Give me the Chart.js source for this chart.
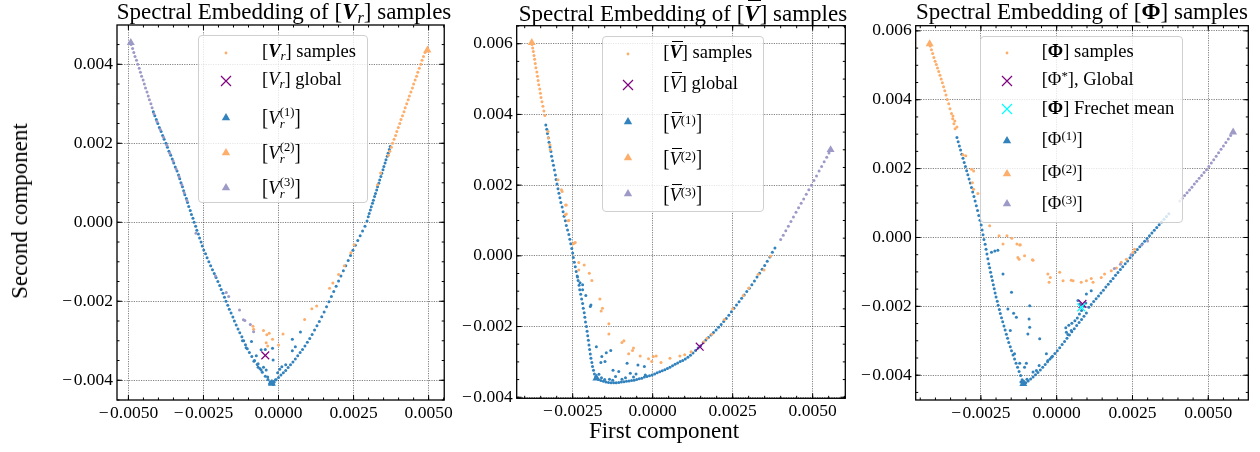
<!DOCTYPE html>
<html><head><meta charset="utf-8">
<script src="https://cdn.jsdelivr.net/npm/chart.js@4.4.1/dist/chart.umd.min.js"></script>
<style>
html,body{margin:0;padding:0;background:#fff}
body{width:1260px;height:452px;position:relative;overflow:hidden;font-family:"Liberation Serif","Times New Roman",serif;color:#000}
canvas{position:absolute;top:0}
.ttl{position:absolute;top:0;height:24px;line-height:24px;font-size:23px;white-space:nowrap;text-align:center}
.lab{position:absolute;font-size:23px;white-space:nowrap;line-height:26px}
.lg{position:absolute;border:1px solid #cfcfcf;border-radius:4px;background:rgba(255,255,255,0.8);box-sizing:border-box}
.row{position:absolute;font-size:18.5px;line-height:24px;height:24px;white-space:nowrap}
.mk{position:absolute;width:12px;height:12px}
sub{font-size:0.7em;vertical-align:-0.22em;line-height:0}
sup{font-size:0.7em;vertical-align:0.42em;line-height:0}
.ss{display:inline-block;vertical-align:-0.3em;font-size:0.68em;line-height:0.95em;margin-left:0.02em}
.ss span{display:block}
.ov{display:inline-block;position:relative;line-height:1.2em}
.ov::before{content:'';position:absolute;left:0.14em;right:-0.04em;top:0.0em;border-top:1px solid #000}
.bb{display:inline-block;transform:scale(1,1.22)}
</style></head>
<body>
<canvas id="c1" width="456" height="452" style="left:0px"></canvas>
<canvas id="c2" width="396" height="452" style="left:456px"></canvas>
<canvas id="c3" width="408" height="452" style="left:852px"></canvas>
<script>
// ---------------- DATA ----------------
const p1XTicks=[-0.005,-0.0025,0,0.0025,0.005];
const p1YTicks=[-0.004,-0.002,0,0.002,0.004];
const p2XTicks=[-0.0025,0,0.0025,0.005];
const p2YTicks=[-0.004,-0.002,0,0.002,0.004,0.006];
const p3XTicks=[-0.0025,0,0.0025,0.005];
const p3YTicks=[-0.004,-0.002,0,0.002,0.004,0.006];

// Panel 1: [V_r]
const p1Blue=[
[-0.00417,0.00280],[-0.00412,0.00270],[-0.00407,0.00260],[-0.00402,0.00250],[-0.00397,0.00240],[-0.00391,0.00230],[-0.00386,0.00220],[-0.00381,0.00210],[-0.00375,0.00200],[-0.00370,0.00190],[-0.00365,0.00180],[-0.00359,0.00170],[-0.00354,0.00160],[-0.00349,0.00150],[-0.00344,0.00140],[-0.00338,0.00130],[-0.00333,0.00120],[-0.00329,0.00110],[-0.00325,0.00100],[-0.00320,0.00090],[-0.00316,0.00080],[-0.00312,0.00070],[-0.00307,0.00060],[-0.00303,0.00050],[-0.00299,0.00040],[-0.00294,0.00030],[-0.00290,0.00020],[-0.00285,0.00010],[-0.00281,0.00000],[-0.00276,-0.00010],[-0.00272,-0.00020],[-0.00267,-0.00030],[-0.00263,-0.00040],[-0.00258,-0.00050],[-0.00254,-0.00060],[-0.00249,-0.00070],[-0.00243,-0.00080],[-0.00238,-0.00090],[-0.00232,-0.00100],[-0.00226,-0.00110],[-0.00220,-0.00120],[-0.00214,-0.00130],[-0.00208,-0.00140],[-0.00202,-0.00150],[-0.00196,-0.00160],[-0.00191,-0.00170],[-0.00185,-0.00180],[-0.00180,-0.00190],[-0.00175,-0.00200],[-0.00169,-0.00210],[-0.00164,-0.00220],[-0.00158,-0.00230],[-0.00152,-0.00240],[-0.00147,-0.00250],[-0.00141,-0.00260],[-0.00135,-0.00270],[-0.00129,-0.00280],[-0.00122,-0.00290],[-0.00116,-0.00300],[-0.00110,-0.00310],[-0.00104,-0.00320],[-0.00097,-0.00330],[-0.00089,-0.00340],[-0.00080,-0.00350],[-0.00071,-0.00360],[-0.00062,-0.00370],[-0.00054,-0.00380],[-0.00044,-0.00390],[-0.00035,-0.00398],[-0.00028,-0.00404],[-0.00022,-0.00408],
[-0.00120,-0.00300],[-0.00108,-0.00318],[-0.00082,-0.00352],[-0.00068,-0.00358],[-0.00058,-0.00374],[-0.00036,-0.00392],[-0.00015,-0.00405],[-0.00010,-0.00399],[-0.00030,-0.00409],[-0.00018,-0.00411],
[-0.00016,-0.00404],[-0.00008,-0.00399],[0.00000,-0.00393],[0.00008,-0.00387],[0.00016,-0.00381],[0.00024,-0.00375],[0.00032,-0.00368],[0.00040,-0.00361],[0.00048,-0.00354],[0.00056,-0.00346],[0.00064,-0.00338],[0.00072,-0.00330],[0.00080,-0.00322],[0.00088,-0.00313],[0.00096,-0.00304],[0.00104,-0.00294],[0.00112,-0.00284],[0.00120,-0.00273],[0.00128,-0.00262],[0.00136,-0.00251],[0.00144,-0.00239],[0.00152,-0.00227],[0.00160,-0.00214],[0.00168,-0.00201],[0.00176,-0.00188],[0.00184,-0.00175],[0.00192,-0.00162],[0.00200,-0.00149],[0.00208,-0.00136],[0.00216,-0.00123],[0.00224,-0.00110],[0.00232,-0.00097],[0.00240,-0.00084],[0.00248,-0.00071],[0.00256,-0.00058],[0.00264,-0.00046],[0.00272,-0.00034],[0.00280,-0.00022],[0.00288,-0.00010],[0.00295,0.00003],
[0.00299,0.00014],[0.00302,0.00022],[0.00306,0.00031],[0.00309,0.00039],[0.00313,0.00048],[0.00316,0.00056],[0.00320,0.00065],[0.00323,0.00073],[0.00327,0.00082],[0.00330,0.00090],[0.00334,0.00099],[0.00337,0.00107],[0.00341,0.00116],[0.00344,0.00124],[0.00348,0.00133],[0.00351,0.00141],[0.00355,0.00150],[0.00358,0.00158],[0.00362,0.00167],[0.00365,0.00175],[0.00369,0.00184],[0.00372,0.00192],
[-0.00090,-0.00302],[-0.00058,-0.00323],[-0.00044,-0.00322],[-0.00020,-0.00319],[-0.00018,-0.00349],[-0.00068,-0.00367],[-0.00050,-0.00367],[-0.00041,-0.00374],[0.00011,-0.00366],[0.00024,-0.00361],[0.00046,-0.00325],[0.00056,-0.00315],[0.00073,-0.00278],[0.00046,-0.00296],[-0.00003,-0.00381],[0.00004,-0.00372],[-0.00074,-0.00338]
];
const p1Orange=[
[0.00366,0.00170],[0.00371,0.00180],[0.00376,0.00190],[0.00380,0.00200],[0.00385,0.00210],[0.00390,0.00220],[0.00394,0.00230],[0.00399,0.00240],[0.00404,0.00250],[0.00408,0.00260],[0.00413,0.00270],[0.00418,0.00280],[0.00422,0.00290],[0.00427,0.00300],[0.00432,0.00310],[0.00436,0.00320],[0.00441,0.00330],[0.00446,0.00340],[0.00450,0.00350],[0.00455,0.00360],[0.00460,0.00370],[0.00464,0.00380],[0.00469,0.00390],[0.00474,0.00400],[0.00478,0.00410],[0.00483,0.00420],[0.00488,0.00430],
[-0.00085,-0.00263],[-0.00083,-0.00271],[-0.00050,-0.00274],[-0.00031,-0.00281],[-0.00039,-0.00285],[-0.00020,-0.00296],[0.00015,-0.00283],[0.00000,-0.00311],[-0.00041,-0.00305],[-0.00036,-0.00313],[0.00087,-0.00246],[0.00111,-0.00219],[0.00127,-0.00212],[0.00170,-0.00167],[0.00181,-0.00154],[0.00200,-0.00132],[0.00219,-0.00110],[0.00241,-0.00077],[0.00252,-0.00057],[0.00330,0.00095],[0.00340,0.00125]
];
const p1Purple=[
[-0.00491,0.00450],[-0.00486,0.00440],[-0.00482,0.00430],[-0.00478,0.00420],[-0.00473,0.00410],[-0.00469,0.00400],[-0.00464,0.00390],[-0.00460,0.00380],[-0.00456,0.00370],[-0.00451,0.00360],[-0.00447,0.00350],[-0.00443,0.00340],[-0.00438,0.00330],[-0.00434,0.00320],[-0.00430,0.00310],[-0.00425,0.00300],[-0.00421,0.00290],[-0.00415,0.00275],[-0.00405,0.00255],[-0.00394,0.00235],[-0.00383,0.00215],[-0.00372,0.00195],[-0.00362,0.00175],[-0.00351,0.00155],[-0.00341,0.00135],[-0.00331,0.00115],[-0.00322,0.00095],[-0.00314,0.00075],[-0.00305,0.00055],
[-0.00275,-0.00028],[-0.00210,-0.00136],[-0.00174,-0.00178],[-0.00166,-0.00188],[-0.00130,-0.00222],[-0.00112,-0.00249],[-0.00094,-0.00259],[-0.00083,-0.00277],[-0.00117,-0.00247]
];
const p1TriBlue=[[-0.00022,-0.00408]];
const p1TriOrange=[[0.00496,0.00436]];
const p1TriPurple=[[-0.00492,0.00455]];
const p1Global=[[-0.00044,-0.00337]];

// Panel 2: [V-bar]
const p2Blue=[
[-0.00334,0.00370],[-0.00331,0.00358],[-0.00329,0.00346],[-0.00326,0.00334],[-0.00324,0.00321],[-0.00321,0.00308],[-0.00318,0.00295],[-0.00316,0.00282],[-0.00313,0.00269],[-0.00310,0.00256],[-0.00307,0.00243],[-0.00304,0.00229],[-0.00302,0.00216],[-0.00299,0.00203],[-0.00296,0.00190],[-0.00293,0.00177],[-0.00290,0.00164],[-0.00287,0.00151],[-0.00283,0.00138],[-0.00280,0.00125],[-0.00277,0.00112],[-0.00273,0.00099],[-0.00270,0.00086],[-0.00266,0.00073],[-0.00262,0.00060],[-0.00259,0.00047],[-0.00256,0.00034],[-0.00253,0.00021],[-0.00250,0.00008],[-0.00248,-0.00005],[-0.00245,-0.00018],[-0.00242,-0.00031],[-0.00239,-0.00044],[-0.00236,-0.00057],[-0.00233,-0.00070],[-0.00230,-0.00083],[-0.00228,-0.00096],[-0.00225,-0.00109],[-0.00222,-0.00122],[-0.00219,-0.00135],[-0.00217,-0.00148],[-0.00214,-0.00161],[-0.00212,-0.00174],[-0.00210,-0.00187],[-0.00207,-0.00200],[-0.00205,-0.00213],[-0.00203,-0.00226],[-0.00201,-0.00239],[-0.00199,-0.00252],[-0.00197,-0.00265],[-0.00195,-0.00278],[-0.00193,-0.00290],[-0.00190,-0.00302],[-0.00188,-0.00313],[-0.00185,-0.00324],[-0.00182,-0.00334],[-0.00178,-0.00342],
[-0.00170,-0.00350],[-0.00162,-0.00353],[-0.00154,-0.00355],[-0.00146,-0.00357],[-0.00138,-0.00358],[-0.00130,-0.00359],[-0.00122,-0.00359],[-0.00114,-0.00359],[-0.00106,-0.00358],[-0.00098,-0.00357],[-0.00090,-0.00356],[-0.00082,-0.00355],[-0.00074,-0.00354],[-0.00066,-0.00353],[-0.00058,-0.00352],[-0.00050,-0.00350],[-0.00042,-0.00348],[-0.00034,-0.00346],[-0.00026,-0.00343],[-0.00018,-0.00341],[-0.00010,-0.00339],[-0.00002,-0.00337],[0.00006,-0.00334],[0.00014,-0.00331],[0.00022,-0.00328],[0.00030,-0.00325],[0.00038,-0.00322],[0.00046,-0.00319],[0.00054,-0.00315],[0.00062,-0.00311],[0.00070,-0.00307],[0.00078,-0.00303],[0.00086,-0.00299],[0.00094,-0.00296],[0.00102,-0.00292],[0.00110,-0.00287],[0.00118,-0.00281],[0.00126,-0.00275],[0.00134,-0.00268],[0.00142,-0.00261],[0.00150,-0.00254],[0.00158,-0.00246],[0.00166,-0.00238],[0.00174,-0.00231],[0.00182,-0.00224],[0.00190,-0.00217],[0.00198,-0.00210],[0.00206,-0.00202],[0.00214,-0.00194],[0.00222,-0.00186],[0.00230,-0.00177],[0.00238,-0.00168],[0.00246,-0.00158],[0.00254,-0.00148],[0.00262,-0.00139],[0.00270,-0.00130],[0.00278,-0.00120],[0.00286,-0.00111],[0.00294,-0.00101],[0.00302,-0.00092],[0.00310,-0.00082],[0.00318,-0.00071],[0.00326,-0.00060],[0.00334,-0.00049],[0.00342,-0.00038],[0.00350,-0.00027],[0.00358,-0.00015],[0.00366,-0.00003],[0.00374,0.00010],[0.00382,0.00022],
[-0.00235,-0.00060],[-0.00227,-0.00076],[-0.00219,-0.00096],[-0.00209,-0.00112],[-0.00195,-0.00143],[-0.00219,-0.00082],[-0.00193,-0.00139],[-0.00176,-0.00257],[-0.00159,-0.00285],[-0.00145,-0.00274],[-0.00131,-0.00268],[-0.00162,-0.00302],[-0.00149,-0.00299],[-0.00124,-0.00324],[-0.00106,-0.00327],[-0.00080,-0.00304],[-0.00070,-0.00332],[-0.00046,-0.00309],[-0.00026,-0.00313],[-0.00052,-0.00334],[-0.00116,-0.00341],[-0.00135,-0.00349],[-0.00096,-0.00349],[-0.00023,-0.00337],[-0.00168,-0.00335],[-0.00160,-0.00345],[-0.00150,-0.00350],[-0.00125,-0.00352],[-0.00085,-0.00345],[-0.00060,-0.00343]
];
const p2Orange=[
[-0.00377,0.00598],[-0.00375,0.00588],[-0.00373,0.00578],[-0.00371,0.00567],[-0.00369,0.00556],[-0.00367,0.00544],[-0.00365,0.00532],[-0.00362,0.00520],[-0.00360,0.00508],[-0.00358,0.00496],[-0.00356,0.00484],[-0.00353,0.00472],[-0.00351,0.00460],[-0.00349,0.00448],[-0.00346,0.00436],[-0.00343,0.00423],[-0.00340,0.00410],[-0.00337,0.00397],
[-0.00327,0.00352],[-0.00326,0.00333],[-0.00321,0.00314],[-0.00320,0.00300],[-0.00296,0.00215],[-0.00285,0.00187],[-0.00283,0.00182],[-0.00272,0.00144],[-0.00270,0.00118],[-0.00264,0.00099],[-0.00245,0.00036],
[-0.00270,0.00144],[-0.00273,0.00116],[-0.00262,0.00100],[-0.00248,0.00034],[-0.00242,0.00038],[-0.00231,-0.00019],[-0.00214,-0.00026],[-0.00231,-0.00040],[-0.00198,-0.00049],[-0.00190,-0.00070],[-0.00165,-0.00122],[-0.00157,-0.00148],[-0.00161,-0.00156],[-0.00137,-0.00192],[-0.00137,-0.00221],[-0.00096,-0.00245],[-0.00090,-0.00240],[-0.00060,-0.00261],[-0.00063,-0.00268],[-0.00075,-0.00277],[-0.00039,-0.00283],[-0.00013,-0.00291],[0.00002,-0.00285],[0.00011,-0.00283],[-0.00003,-0.00299],[0.00026,-0.00302],[0.00054,-0.00290],[0.00085,-0.00283],[0.00100,-0.00280],[0.00120,-0.00271],[0.00170,-0.00233],
[0.00160,-0.00243],[0.00185,-0.00222],[0.00224,-0.00180],[0.00250,-0.00150],[0.00283,-0.00112],[0.00300,-0.00091],[0.00330,-0.00052],[0.00348,-0.00040],[0.00368,-0.00001]
];
const p2Purple=[
[0.00400,0.00046],[0.00408,0.00058],[0.00416,0.00071],[0.00424,0.00084],[0.00432,0.00097],[0.00440,0.00110],[0.00448,0.00123],[0.00456,0.00136],[0.00464,0.00149],[0.00472,0.00161],[0.00480,0.00174],[0.00488,0.00187],[0.00496,0.00200],[0.00504,0.00213],[0.00512,0.00226],[0.00520,0.00240],[0.00528,0.00253],[0.00536,0.00266],[0.00544,0.00279],[0.00551,0.00291]
];
const p2TriBlue=[[-0.00176,-0.00346]];
const p2TriOrange=[[-0.00378,0.00603]];
const p2TriPurple=[[0.00556,0.00300]];
const p2Global=[[0.00147,-0.00257]];

// Panel 3: [Phi]
const p3Blue=[
[-0.00329,0.00290],[-0.00325,0.00278],[-0.00321,0.00266],[-0.00317,0.00254],[-0.00313,0.00242],[-0.00309,0.00230],[-0.00305,0.00218],[-0.00301,0.00206],[-0.00297,0.00194],[-0.00293,0.00182],[-0.00289,0.00170],[-0.00285,0.00158],[-0.00281,0.00145],[-0.00277,0.00132],[-0.00273,0.00119],[-0.00269,0.00106],[-0.00265,0.00092],[-0.00261,0.00078],[-0.00257,0.00064],[-0.00253,0.00050],[-0.00249,0.00036],[-0.00246,0.00022],[-0.00243,0.00008],[-0.00240,-0.00006],[-0.00236,-0.00020],[-0.00233,-0.00034],[-0.00230,-0.00048],[-0.00227,-0.00062],[-0.00224,-0.00076],[-0.00221,-0.00088],[-0.00218,-0.00101],[-0.00215,-0.00113],[-0.00212,-0.00125],[-0.00209,-0.00137],[-0.00206,-0.00149],[-0.00203,-0.00161],[-0.00200,-0.00173],[-0.00196,-0.00185],[-0.00193,-0.00197],[-0.00189,-0.00209],[-0.00186,-0.00221],[-0.00182,-0.00233],[-0.00178,-0.00245],[-0.00174,-0.00257],[-0.00170,-0.00269],[-0.00166,-0.00281],[-0.00162,-0.00293],[-0.00158,-0.00305],[-0.00153,-0.00317],[-0.00149,-0.00329],[-0.00144,-0.00341],[-0.00139,-0.00353],[-0.00134,-0.00365],[-0.00129,-0.00377],[-0.00124,-0.00389],[-0.00119,-0.00401],[-0.00114,-0.00413],
[-0.00102,-0.00422],[-0.00094,-0.00417],[-0.00086,-0.00411],[-0.00078,-0.00405],[-0.00070,-0.00399],[-0.00062,-0.00392],[-0.00054,-0.00385],[-0.00046,-0.00377],[-0.00038,-0.00369],[-0.00030,-0.00361],[-0.00022,-0.00353],[-0.00014,-0.00345],[-0.00006,-0.00337],[0.00002,-0.00329],[0.00010,-0.00320],[0.00018,-0.00311],[0.00026,-0.00302],[0.00034,-0.00293],[0.00042,-0.00283],[0.00050,-0.00274],[0.00058,-0.00265],[0.00066,-0.00256],[0.00074,-0.00247],[0.00082,-0.00238],[0.00090,-0.00229],[0.00098,-0.00219],[0.00106,-0.00203],[0.00114,-0.00195],[0.00122,-0.00186],[0.00130,-0.00178],[0.00138,-0.00170],[0.00146,-0.00161],[0.00154,-0.00153],[0.00162,-0.00144],[0.00170,-0.00136],[0.00178,-0.00127],[0.00186,-0.00119],[0.00194,-0.00110],[0.00202,-0.00102],[0.00210,-0.00093],[0.00218,-0.00085],[0.00226,-0.00076],[0.00234,-0.00068],[0.00242,-0.00059],[0.00250,-0.00051],[0.00258,-0.00043],[0.00266,-0.00035],[0.00274,-0.00027],[0.00282,-0.00019],[0.00290,-0.00011],[0.00298,-0.00003],[0.00306,0.00005],[0.00314,0.00013],[0.00322,0.00021],[0.00330,0.00029],[0.00338,0.00037],[0.00346,0.00045],[0.00354,0.00053],[0.00362,0.00061],[0.00370,0.00069],
[0.00030,-0.00262],[0.00040,-0.00255],[0.00050,-0.00249],[0.00060,-0.00242],[0.00068,-0.00234],[0.00075,-0.00222],[0.00082,-0.00212],[0.00090,-0.00200],[0.00096,-0.00190],
[-0.00215,-0.00043],[-0.00204,-0.00039],[-0.00194,-0.00037],[-0.00177,-0.00106],[-0.00149,-0.00159],[-0.00161,-0.00208],[-0.00142,-0.00220],[-0.00133,-0.00232],[-0.00153,-0.00270],[-0.00089,-0.00261],[-0.00139,-0.00338],[-0.00122,-0.00365],[-0.00100,-0.00365],[-0.00078,-0.00391],[-0.00067,-0.00386],[-0.00034,-0.00338],[-0.00029,-0.00357],[-0.00017,-0.00348],[-0.00058,-0.00372],[0.00032,-0.00275],[0.00037,-0.00282],[0.00048,-0.00270],[0.00070,-0.00183],[0.00076,-0.00193],[0.00098,-0.00164],[0.00114,-0.00155],[-0.00089,-0.00198],[-0.00091,-0.00237],[-0.00095,-0.00280],[-0.00056,-0.00294],[-0.00106,-0.00377],[-0.00108,-0.00418],[-0.00098,-0.00412],[-0.00118,-0.00420]
];
const p3Orange=[
[-0.00417,0.00556],[-0.00413,0.00545],[-0.00409,0.00534],[-0.00405,0.00523],[-0.00401,0.00512],[-0.00397,0.00502],[-0.00393,0.00492],[-0.00389,0.00482],[-0.00385,0.00471],[-0.00381,0.00460],[-0.00377,0.00449],[-0.00373,0.00438],[-0.00369,0.00426],[-0.00365,0.00414],[-0.00361,0.00401],[-0.00356,0.00388],[-0.00352,0.00374],[-0.00347,0.00360],[-0.00343,0.00345],[-0.00339,0.00330],[-0.00335,0.00316],
[-0.00342,0.00353],[-0.00336,0.00338],[-0.00329,0.00321],[-0.00309,0.00240],[-0.00300,0.00237],[-0.00281,0.00198],[-0.00274,0.00193],[-0.00278,0.00159],[-0.00274,0.00140],[-0.00260,0.00128],
[-0.00221,0.00034],[-0.00190,0.00005],[-0.00164,0.00005],[-0.00177,-0.00019],[-0.00131,-0.00019],[-0.00120,-0.00021],[-0.00124,-0.00063],[-0.00106,-0.00053],[-0.00078,-0.00066],[-0.00029,-0.00106],[-0.00021,-0.00116],[0.00010,-0.00101],[0.00021,-0.00126],[0.00048,-0.00124],[0.00054,-0.00126],[0.00081,-0.00130],[0.00098,-0.00126],[0.00114,-0.00119],[0.00120,-0.00130],[0.00147,-0.00116],[0.00158,-0.00106],[0.00180,-0.00097],[0.00197,-0.00089],[0.00213,-0.00072],[0.00230,-0.00063],[0.00252,-0.00043],[-0.00148,-0.00002],[-0.00122,-0.00022],[-0.00128,-0.00058],[-0.00080,-0.00065],[-0.00025,-0.00130],[0.00257,-0.00034]
];
const p3Purple=[
[0.00406,0.00106],[0.00414,0.00114],[0.00422,0.00122],[0.00430,0.00130],[0.00438,0.00138],[0.00446,0.00146],[0.00454,0.00155],[0.00462,0.00163],[0.00470,0.00172],[0.00478,0.00180],[0.00486,0.00189],[0.00494,0.00197],[0.00502,0.00206],[0.00510,0.00216],[0.00518,0.00226],[0.00526,0.00236],[0.00534,0.00246],[0.00542,0.00256],[0.00550,0.00266],[0.00558,0.00276],[0.00566,0.00286],[0.00574,0.00296],
[0.00190,-0.00090],[0.00210,-0.00078],[0.00245,-0.00050],[0.00280,-0.00022],[0.00300,-0.00010]
];
const p3TriBlue=[[-0.00110,-0.00425]];
const p3TriOrange=[[-0.00419,0.00562]];
const p3TriPurple=[[0.00582,0.00306]];
const p3Global=[[0.00085,-0.00193]];
const p3Frechet=[[0.00081,-0.00203]];

// ---------------- RENDERING ----------------
const SERIF='"Liberation Serif","Times New Roman",serif';
const C_BLUE='#3182bd', C_ORANGE='#fdae6b', C_PURPLE='#9e9ac8';
const pts=a=>a.map(([x,y])=>({x,y}));
const fmt=(v,d)=>(v<-1e-12?'\u2212\u200A':'')+Math.abs(v).toFixed(d);

const frameTicks={
  id:'frameTicks',
  afterDraw(chart){
    const {ctx,chartArea:a,scales:{x,y}}=chart;
    const minor=0.0005;
    ctx.save();
    ctx.strokeStyle='#000';ctx.lineWidth=1;
    ctx.beginPath();
    x.ticks.forEach(t=>{const p=x.getPixelForValue(t.value);ctx.moveTo(p,a.bottom);ctx.lineTo(p,a.bottom-5);ctx.moveTo(p,a.top);ctx.lineTo(p,a.top+5);});
    y.ticks.forEach(t=>{const p=y.getPixelForValue(t.value);ctx.moveTo(a.left,p);ctx.lineTo(a.left+5,p);ctx.moveTo(a.right,p);ctx.lineTo(a.right-5,p);});
    for(let k=Math.ceil(x.min/minor);k*minor<=x.max;k++){const p=x.getPixelForValue(k*minor);ctx.moveTo(p,a.bottom);ctx.lineTo(p,a.bottom-2.5);ctx.moveTo(p,a.top);ctx.lineTo(p,a.top+2.5);}
    for(let k=Math.ceil(y.min/minor);k*minor<=y.max;k++){const p=y.getPixelForValue(k*minor);ctx.moveTo(a.left,p);ctx.lineTo(a.left+2.5,p);ctx.moveTo(a.right,p);ctx.lineTo(a.right-2.5,p);}
    ctx.stroke();
    ctx.lineWidth=1.3;
    ctx.strokeRect(a.left,a.top,a.right-a.left,a.bottom-a.top);
    ctx.restore();
  }
};

function panel(id,s){
  const ds=[];
  const X=(d,c,l)=>ds.push({label:l,data:pts(d),pointStyle:'crossRot',pointRadius:5.5,borderColor:c,borderWidth:1.2,backgroundColor:c});
  const T=(d,c,l)=>ds.push({label:l,data:pts(d),pointStyle:'triangle',pointRadius:4.6,backgroundColor:c,borderWidth:0});
  const S=(d,c,l)=>ds.push({label:l,data:pts(d),pointStyle:'circle',pointRadius:1.5,backgroundColor:c,borderWidth:0});
  if(s.frechet) X(s.frechet,'#00ffff','Frechet mean');
  X(s.global,'#800080','global');
  T(s.triP,C_PURPLE,'(3)');T(s.triO,C_ORANGE,'(2)');T(s.triB,C_BLUE,'(1)');
  S(s.purple,C_PURPLE,'samples 3');S(s.orange,C_ORANGE,'samples 2');S(s.blue,C_BLUE,'samples 1');
  const gridOpt={color:'rgba(0,0,0,0.55)',lineWidth:0.9,drawTicks:false};
  new Chart(document.getElementById(id),{
    type:'scatter',
    data:{datasets:ds},
    options:{
      responsive:false,animation:false,devicePixelRatio:1,
      layout:{padding:{top:s.T,right:s.R,left:0,bottom:0}},
      plugins:{legend:{display:false},tooltip:{enabled:false},title:{display:false}},
      elements:{point:{hoverRadius:0}},
      scales:{
        x:{type:'linear',min:s.xMin,max:s.xMax,
          afterBuildTicks:sc=>{sc.ticks=s.xTicks.map(v=>({value:v}));},
          afterFit:sc=>{sc.height=s.hX;},
          ticks:{callback:v=>fmt(v,4),font:{family:SERIF,size:17.5},color:'#000',padding:3,maxRotation:0,autoSkip:false},
          grid:gridOpt,border:{display:false,dash:[1.2,1.2]}},
        y:{type:'linear',min:s.yMin,max:s.yMax,
          afterBuildTicks:sc=>{sc.ticks=s.yTicks.map(v=>({value:v}));},
          afterFit:sc=>{sc.width=s.yW;},
          ticks:{callback:v=>fmt(v,3),font:{family:SERIF,size:17.5},color:'#000',padding:4,autoSkip:false},
          grid:gridOpt,border:{display:false,dash:[1.2,1.2]}}
      }
    },
    plugins:[frameTicks]
  });
}

panel('c1',{xMin:-0.00538,xMax:0.00552,yMin:-0.0045,yMax:0.004995,xTicks:p1XTicks,yTicks:p1YTicks,yW:117,T:25,R:5,hX:52,
  blue:p1Blue,orange:p1Orange,purple:p1Purple,triB:p1TriBlue,triO:p1TriOrange,triP:p1TriPurple,global:p1Global});
panel('c2',{xMin:-0.00425,xMax:0.00602,yMin:-0.00403,yMax:0.00651,xTicks:p2XTicks,yTicks:p2YTicks,yW:60.7,T:25.7,R:2.7,hX:53.7,
  blue:p2Blue,orange:p2Orange,purple:p2Purple,triB:p2TriBlue,triO:p2TriOrange,triP:p2TriPurple,global:p2Global});
panel('c3',{xMin:-0.00465,xMax:0.00632,yMin:-0.00472,yMax:0.00615,xTicks:p3XTicks,yTicks:p3YTicks,yW:63.7,T:25.7,R:11.7,hX:52,
  blue:p3Blue,orange:p3Orange,purple:p3Purple,triB:p3TriBlue,triO:p3TriOrange,triP:p3TriPurple,global:p3Global,frechet:p3Frechet});

// ---------------- TEXT OVERLAYS ----------------
function el(cls,style,html){const d=document.createElement('div');d.className=cls;d.setAttribute('style',style);d.innerHTML=html;document.body.appendChild(d);return d;}
el('ttl','left:84px;width:400px','Spectral Embedding of [<b><i>V</i></b><sub><i>r</i></sub>] samples');
el('ttl','left:483px;width:400px','Spectral Embedding of [<span class="ov"><b><i>V</i></b></span>] samples');
el('ttl','left:882px;width:400px','Spectral Embedding of [<b>Φ</b>] samples');
el('lab','left:664px;top:418px;transform:translateX(-50%)','First component');
el('lab','left:20px;top:211px;transform:translate(-50%,-50%) rotate(-90deg)','Second component');

const MK={
  dot:'<svg class="mk" viewBox="0 0 12 12"><circle cx="6" cy="6" r="1.4" fill="'+C_ORANGE+'"/></svg>',
  xp:'<svg class="mk" viewBox="0 0 12 12"><path d="M1 1L11 11M11 1L1 11" stroke="#800080" stroke-width="1.2"/></svg>',
  xc:'<svg class="mk" viewBox="0 0 12 12"><path d="M1 1L11 11M11 1L1 11" stroke="#00ffff" stroke-width="1.2"/></svg>',
  tb:'<svg class="mk" viewBox="0 0 12 12"><polygon points="6,2 10.2,9.3 1.8,9.3" fill="'+C_BLUE+'"/></svg>',
  to:'<svg class="mk" viewBox="0 0 12 12"><polygon points="6,2 10.2,9.3 1.8,9.3" fill="'+C_ORANGE+'"/></svg>',
  tp:'<svg class="mk" viewBox="0 0 12 12"><polygon points="6,2 10.2,9.3 1.8,9.3" fill="'+C_PURPLE+'"/></svg>'
};
function legend(box,mx,tx,rows){
  el('lg','left:'+box[0]+'px;top:'+box[1]+'px;width:'+box[2]+'px;height:'+box[3]+'px','');
  rows.forEach(r=>{
    el('','position:absolute;left:'+(mx-6)+'px;top:'+(r[0]-6)+'px;width:12px;height:12px',MK[r[1]]);
    el('row','left:'+tx+'px;top:'+(r[0]+r[3]-18.2)+'px',r[2]);
  });
}
const VR='<i>V</i>';
legend([198,35,170,168],226,262,[
  [52.7,'dot','[<b><i>V</i></b><sub><i>r</i></sub>] samples',4.6],
  [80.7,'xp','['+VR+'<sub><i>r</i></sub>] global',4.6],
  [116.7,'tb','<span class="bb">[</span>'+VR+'<span class="ss"><span>(1)</span><span><i>r</i></span></span><span class="bb">]</span>',7.5],
  [151.7,'to','<span class="bb">[</span>'+VR+'<span class="ss"><span>(2)</span><span><i>r</i></span></span><span class="bb">]</span>',7.5],
  [186.7,'tp','<span class="bb">[</span>'+VR+'<span class="ss"><span>(3)</span><span><i>r</i></span></span><span class="bb">]</span>',7.5]
]);
legend([601.7,36,162.3,175.7],628.3,663.3,[
  [54,'dot','[<span class="ov"><b><i>V</i></b></span>] samples',4.4],
  [85,'xp','[<span class="ov"><i>V</i></span>] global',4.4],
  [120.7,'tb','<span class="bb">[</span><span class="ov"><i>V</i></span><sup>(1)</sup><span class="bb">]</span>',8],
  [157.3,'to','<span class="bb">[</span><span class="ov"><i>V</i></span><sup>(2)</sup><span class="bb">]</span>',8],
  [193.3,'tp','<span class="bb">[</span><span class="ov"><i>V</i></span><sup>(3)</sup><span class="bb">]</span>',8]
]);
legend([980,36,203.3,186.7],1006.7,1041.7,[
  [52.7,'dot','[<b>Φ</b>] samples',4.6],
  [80.7,'xp','[Φ<sup>*</sup>], Global',4.6],
  [109.3,'xc','[<b>Φ</b>] Frechet mean',4.6],
  [140,'tb','[Φ<sup>(1)</sup>]',5.5],
  [172.7,'to','[Φ<sup>(2)</sup>]',5.5],
  [203.3,'tp','[Φ<sup>(3)</sup>]',5.5]
]);
</script>
</body></html>
